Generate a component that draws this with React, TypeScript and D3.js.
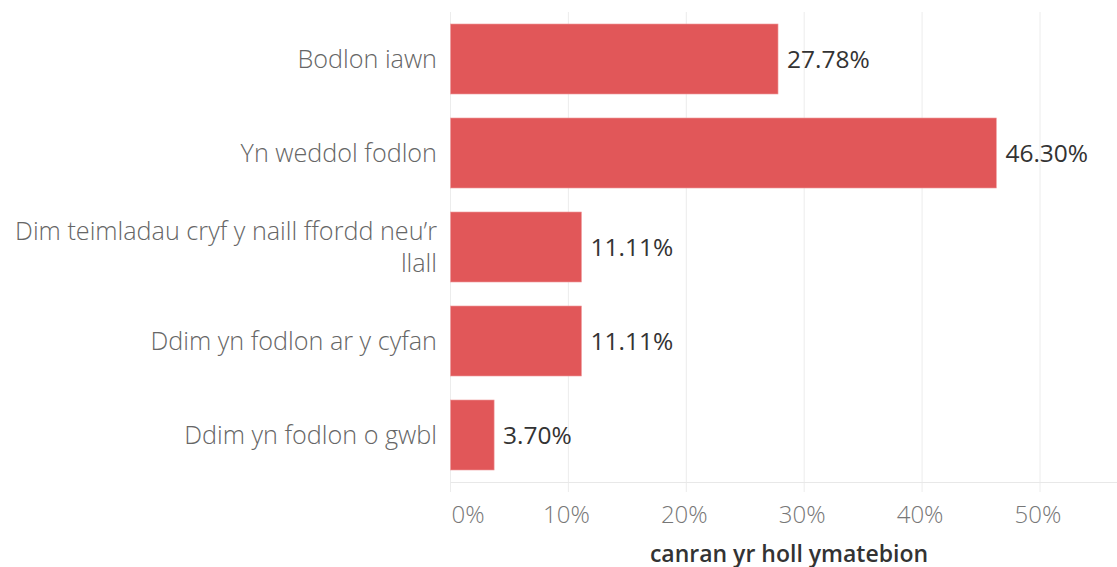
import React from "react";
import * as d3 from "d3";

const categories = [
  "Bodlon iawn",
  "Yn weddol fodlon",
  "Dim teimladau cryf y naill ffordd neu’r llall",
  "Ddim yn fodlon ar y cyfan",
  "Ddim yn fodlon o gwbl",
];
const categoryLines = [
  ["Bodlon iawn"],
  ["Yn weddol fodlon"],
  ["Dim teimladau cryf y naill ffordd neu’r", "llall"],
  ["Ddim yn fodlon ar y cyfan"],
  ["Ddim yn fodlon o gwbl"],
];
const values = [0.2778, 0.463, 0.1111, 0.1111, 0.037];
const valueLabels = ["27.78%", "46.30%", "11.11%", "11.11%", "3.70%"];
const ticks = [0, 0.1, 0.2, 0.3, 0.4, 0.5];
const axisTitle = "canran yr holl ymatebion";

const W = 1117;
const H = 567;
const FONT = "'Open Sans', 'Noto Sans', sans-serif";

export default function App() {
  const x0 = 450.5;
  const x = d3.scaleLinear().domain([0, 0.1]).range([x0, x0 + 117.9]);
  const y = d3
    .scaleBand<string>()
    .domain(categories)
    .range([12, 482])
    .paddingInner(0.255)
    .paddingOuter(0.1275);
  const axisY = 482.5;

  return (
    <svg
      width={W}
      height={H}
      style={{ position: "absolute", left: 0, top: 0, background: "#fff" }}
    >
      {/* gridlines */}
      {ticks.map((t) => (
        <line
          key={"g" + t}
          x1={x(t)}
          x2={x(t)}
          y1={12}
          y2={492}
          stroke="#ececec"
          strokeWidth={1}
        />
      ))}
      <line x1={x0} x2={W} y1={axisY} y2={axisY} stroke="#e8e8e8" strokeWidth={1} />
      {/* bars */}
      {categories.map((c, i) => (
        <rect
          key={c}
          x={x(0)}
          y={y(c)}
          width={x(values[i]) - x(0)}
          height={y.bandwidth()}
          fill="#e15759"
          stroke="#f0a0a2"
          strokeWidth={0.6}
        />
      ))}
      {/* value labels */}
      {categories.map((c, i) => (
        <text
          key={"v" + c}
          x={x(values[i]) + 9}
          y={(y(c) as number) + y.bandwidth() / 2}
          dy="0.35em"
          fontFamily={FONT}
          fontSize={24.5}
          fill="#333"
        >
          {valueLabels[i]}
        </text>
      ))}
      {/* category labels */}
      {categories.map((c, i) => {
        const lines = categoryLines[i];
        const cy = (y(c) as number) + y.bandwidth() / 2;
        const lh = 32;
        return (
          <text
            key={"c" + c}
            x={437}
            textAnchor="end"
            fontFamily={FONT}
            fontSize={25.2}
            fontWeight={300}
            fill="#666"
          >
            {lines.map((l, j) => (
              <tspan
                key={j}
                x={437}
                y={cy + (j - (lines.length - 1) / 2) * lh}
                dy="0.35em"
              >
                {l}
              </tspan>
            ))}
          </text>
        );
      })}
      {/* tick labels */}
      {ticks.map((t, i) => (
        <text
          key={"t" + t}
          x={i === 0 ? x(t) + 1 : x(t) - 2}
          y={514.5}
          dy="0.35em"
          textAnchor={i === 0 ? "start" : "middle"}
          fontFamily={FONT}
          fontSize={24}
          fontWeight={300}
          fill="#777"
        >
          {d3.format(".0%")(t)}
        </text>
      ))}
      <text
        x={789}
        y={561.5}
        textAnchor="middle"
        fontFamily={FONT}
        fontSize={23}
        fontWeight={600}
        fill="#333"
      >
        {axisTitle}
      </text>
    </svg>
  );
}
